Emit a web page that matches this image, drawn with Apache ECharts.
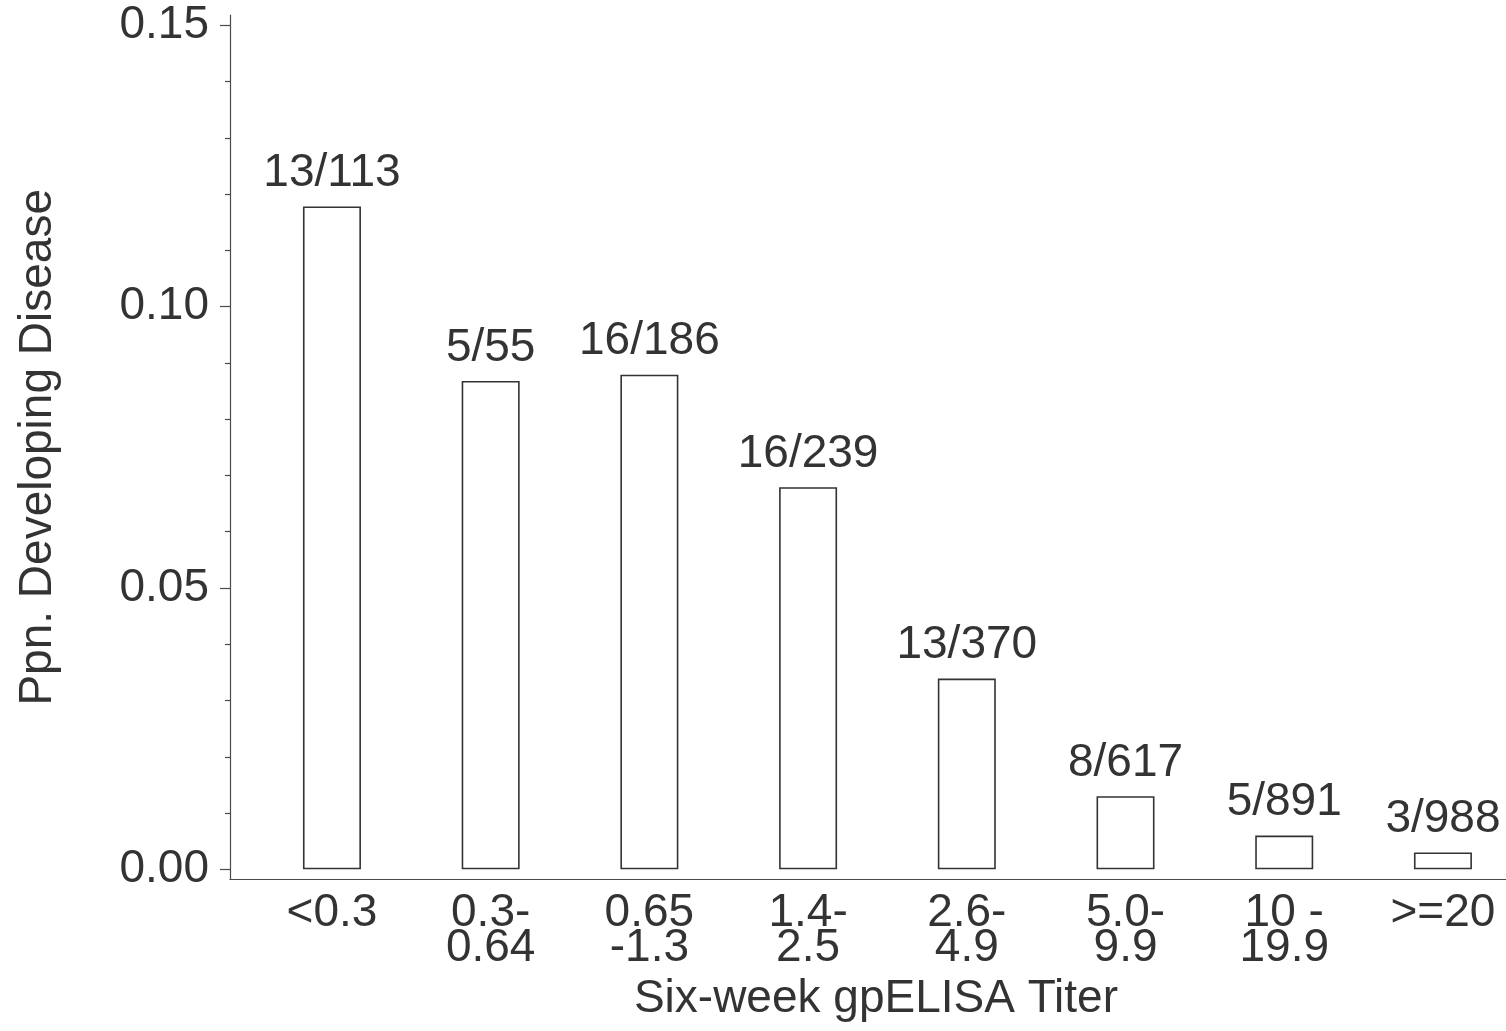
<!DOCTYPE html>
<html>
<head>
<meta charset="utf-8">
<script src="https://cdn.jsdelivr.net/npm/echarts@6/dist/echarts.min.js"></script>
<style>
html,body{margin:0;padding:0;background:#fff;}
#chart{width:1506px;height:1031px;}
</style>
</head>
<body>
<div id="chart"></div>
<script>
const categories = ['<0.3', '0.3-\n0.64', '0.65\n-1.3', '1.4-\n2.5', '2.6-\n4.9', '5.0-\n9.9', '10 -\n19.9', '>=20'];
const proportions = [0.1178, 0.0868, 0.0879, 0.0679, 0.0339, 0.0130, 0.0060, 0.0030];
const countLabels = ['13/113', '5/55', '16/186', '16/239', '13/370', '8/617', '5/891', '3/988'];
const yTicks = [0, 0.05, 0.10, 0.15];

const FONT = 'Liberation Sans, Arial, Helvetica, sans-serif';
const TXT = '#333333';
const chart = echarts.init(document.getElementById('chart'), null, {renderer: 'canvas'});
chart.setOption({
  backgroundColor: '#ffffff',
  animation: false,
  grid: [
    {left: 252.6, width: 1269.7, top: 25.3, bottom: 161.7, containLabel: false, outerBoundsMode: 'none'},
    {left: 230, right: 0, top: 15, bottom: 151.7, containLabel: false, outerBoundsMode: 'none'}
  ],
  xAxis: [
    {
      type: 'category', gridIndex: 0, data: categories,
      axisLine: {show: false}, axisTick: {show: false},
      axisLabel: {fontFamily: FONT, fontSize: 46, color: TXT, lineHeight: 35, margin: 27, interval: 0},
      name: 'Six-week gpELISA Titer', nameLocation: 'middle', nameGap: 102,
      nameTextStyle: {fontFamily: FONT, fontSize: 46, color: TXT, lineHeight: 46, padding: [0, 23, 0, 0]}
    },
    {
      type: 'value', gridIndex: 1, min: 0, max: 1,
      axisLine: {show: true, lineStyle: {color: '#4a4a4a', width: 1.2}},
      axisTick: {show: false}, axisLabel: {show: false}, splitLine: {show: false}
    }
  ],
  yAxis: [
    {
      type: 'value', gridIndex: 0, min: yTicks[0], max: yTicks[yTicks.length - 1], interval: 0.05,
      offset: 22.6,
      axisLine: {show: false},
      axisTick: {show: true, length: 10, lineStyle: {color: '#4a4a4a', width: 1.2}},
      minorTick: {show: true, splitNumber: 5, length: 5, lineStyle: {color: '#4a4a4a', width: 1.2}},
      splitLine: {show: false},
      axisLabel: {fontFamily: FONT, fontSize: 46, color: TXT, margin: 21, formatter: v => v.toFixed(2)},
      name: 'Ppn. Developing Disease', nameLocation: 'middle', nameGap: 169, nameRotate: 90,
      nameTextStyle: {fontFamily: FONT, fontSize: 46, color: TXT, lineHeight: 46}
    },
    {
      type: 'value', gridIndex: 1, min: 0, max: 1,
      axisLine: {show: true, lineStyle: {color: '#4a4a4a', width: 1.2}},
      axisTick: {show: false}, axisLabel: {show: false}, splitLine: {show: false}
    }
  ],
  series: [{
    type: 'bar', xAxisIndex: 0, yAxisIndex: 0,
    data: proportions,
    barWidth: 58,
    itemStyle: {color: '#ffffff', borderColor: '#333333', borderWidth: 1.6},
    label: {
      show: true, position: 'top', distance: 10,
      fontFamily: FONT, fontSize: 46, color: TXT, lineHeight: 46,
      formatter: p => countLabels[p.dataIndex]
    }
  }]
});
</script>
</body>
</html>
